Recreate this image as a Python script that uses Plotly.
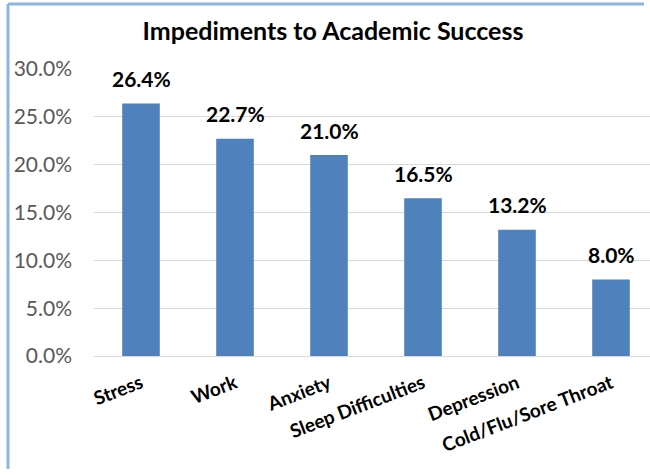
import plotly.graph_objects as go

# Survey results: share of students citing each impediment
categories = ["Stress", "Work", "Anxiety", "Sleep Difficulties", "Depression", "Cold/Flu/Sore Throat"]
shares = [26.4, 22.7, 21.0, 16.5, 13.2, 8.0]
y_ticks = [0, 5, 10, 15, 20, 25, 30]
y_tick_labels = [f"{v:.1f}%" for v in y_ticks]

W, H = 650, 475
L, R, T, B = 94, 0, 69, 119
plot_w = W - L - R
plot_h = H - T - B
BLUE = "#4F81BD"
FONT = "Lato"

fig = go.Figure(
    go.Bar(
        x=categories,
        y=shares,
        marker=dict(color=BLUE, line=dict(width=0)),
        hoverinfo="skip",
    )
)

# Bold value labels sitting above each bar
for cat, val in zip(categories, shares):
    fig.add_annotation(
        x=cat, y=val, text=f"<b>{val:.1f}%</b>",
        showarrow=False, yanchor="middle", yshift=25,
        font=dict(family=FONT, size=21, color="#000000"),
    )

# Light blue frame along the left and top edges, kept clear of the canvas border
px_to_x = lambda px: (px - L) / plot_w
px_to_y = lambda py: (H - B - py) / plot_h
frame = dict(color="#8DB4E2", width=3)
fig.add_shape(type="line", xref="paper", yref="paper",
              x0=px_to_x(8), x1=px_to_x(8), y0=px_to_y(4), y1=px_to_y(H - 6), line=frame)
fig.add_shape(type="line", xref="paper", yref="paper",
              x0=px_to_x(8), x1=px_to_x(W - 6), y0=px_to_y(4), y1=px_to_y(4), line=frame)

fig.update_layout(
    width=W, height=H,
    margin=dict(l=L, r=R, t=T, b=B, autoexpand=False),
    paper_bgcolor="white", plot_bgcolor="white",
    bargap=0.6,
    showlegend=False,
    title=dict(
        text="<b>Impediments to Academic Success</b>",
        x=333 / W, xanchor="center", xref="container",
        y=1 - 31 / H, yanchor="middle", yref="container",
        font=dict(family=FONT, size=25, color="#000000"),
    ),
    xaxis=dict(
        range=[-0.5, -0.5 + plot_w / 94],
        tickangle=-21,
        tickfont=dict(family=FONT, size=19, color="#000000", weight="bold"),
        showgrid=False, showline=False, zeroline=False,
        ticks="", ticklabelstandoff=12,
    ),
    yaxis=dict(
        range=[0, 30],
        tickvals=y_ticks, ticktext=y_tick_labels,
        tickfont=dict(family=FONT, size=21, color="#595959"),
        showgrid=True, gridcolor="#D9D9D9", gridwidth=1,
        zeroline=True, zerolinecolor="#D9D9D9", zerolinewidth=1,
        showline=False, ticks="", ticklabelstandoff=21,
    ),
)

fig.write_html("out.html", config={"displayModeBar": False})
